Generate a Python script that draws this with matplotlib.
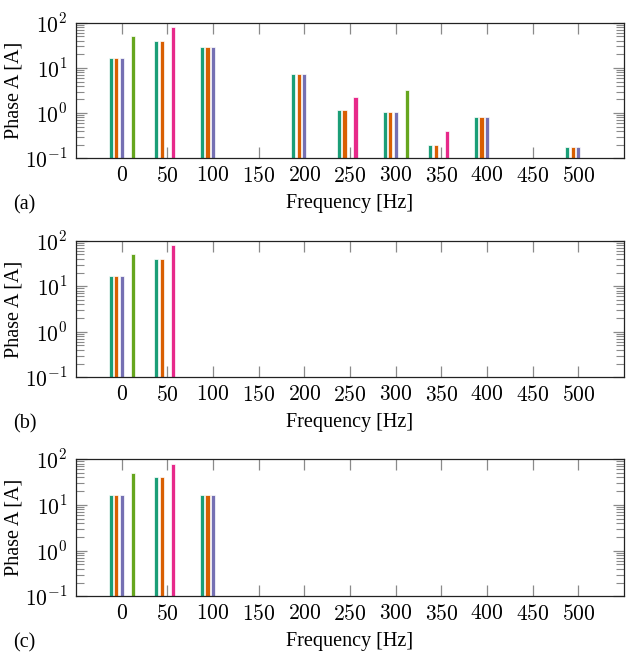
import numpy as np
import matplotlib
matplotlib.use("Agg")
import matplotlib.pyplot as plt
from matplotlib.ticker import FixedLocator, FuncFormatter, LogLocator, NullFormatter

plt.rcParams['font.family'] = ['Liberation Serif', 'DejaVu Serif']
plt.rcParams['mathtext.fontset'] = 'cm'

nan = np.nan

# 周波数 [Hz]
freqs = [0, 50, 100, 150, 200, 250, 300, 350, 400, 450, 500]
series_colors = ['#1b9e77', '#d95f02', '#7570b3', '#e7298a', '#66a61e']
series_offsets = [-12, -6, 0, 6, 12]

# (a)
a_teal = [16.8, 40, 28.5, nan, 7.2, 1.15, 1.07, 0.2, 0.83, nan, 0.18]
a_orange = [16.8, 40, 28.5, nan, 7.2, 1.15, 1.07, 0.2, 0.83, nan, 0.18]
a_purple = [16.8, nan, 28.5, nan, 7.2, nan, 1.07, nan, 0.83, nan, 0.18]
a_pink = [nan, 80, nan, nan, nan, 2.3, nan, 0.4, nan, nan, nan]
a_green = [51, nan, nan, nan, nan, nan, 3.2, nan, nan, nan, nan]

# (b)
b_teal = [16.8, 40, nan, nan, nan, nan, nan, nan, nan, nan, nan]
b_orange = [16.8, 40, nan, nan, nan, nan, nan, nan, nan, nan, nan]
b_purple = [16.8, nan, nan, nan, nan, nan, nan, nan, nan, nan, nan]
b_pink = [nan, 80, nan, nan, nan, nan, nan, nan, nan, nan, nan]
b_green = [51, nan, nan, nan, nan, nan, nan, nan, nan, nan, nan]

# (c)
c_teal = [16.8, 40, 16.8, nan, nan, nan, nan, nan, nan, nan, nan]
c_orange = [16.8, 40, 16.8, nan, nan, nan, nan, nan, nan, nan, nan]
c_purple = [16.8, nan, 16.8, nan, nan, nan, nan, nan, nan, nan, nan]
c_pink = [nan, 80, nan, nan, nan, nan, nan, nan, nan, nan, nan]
c_green = [51, nan, nan, nan, nan, nan, nan, nan, nan, nan, nan]

panels = [
    ('(a)', [a_teal, a_orange, a_purple, a_pink, a_green]),
    ('(b)', [b_teal, b_orange, b_purple, b_pink, b_green]),
    ('(c)', [c_teal, c_orange, c_purple, c_pink, c_green]),
]

W, H = 626, 653
fig = plt.figure(figsize=(W / 100, H / 100), dpi=100)

# 各パネルの位置 (ピクセル: 上端, 下端)
boxes = [(22.7, 158.3), (240.7, 377.3), (459.3, 596.3)]
left_px, right_px = 76, 624
tick_gray = '#8a8a8a'

for (tag, series), (top, bot) in zip(panels, boxes):
    ax = fig.add_axes([left_px / W, 1 - bot / H, (right_px - left_px) / W, (bot - top) / H])
    ax.set_yscale('log')
    x = np.array(freqs, dtype=float)
    for vals, col, off in zip(series, series_colors, series_offsets):
        v = np.array(vals, dtype=float)
        m = ~np.isnan(v)
        ax.bar(x[m] + off, v[m], width=4.6, bottom=1e-3, color=col,
               edgecolor='white', linewidth=0.5, zorder=2)
    ax.set_xlim(-50, 550)
    ax.set_ylim(0.1, 100)
    ax.set_axisbelow(True)

    ax.xaxis.set_major_locator(FixedLocator(freqs))
    ax.xaxis.set_major_formatter(FuncFormatter(lambda v, p: f'${int(v)}$'))
    ax.yaxis.set_major_locator(FixedLocator([0.1, 1, 10, 100]))
    ax.yaxis.set_major_formatter(FuncFormatter(lambda v, p: f'$10^{{{int(round(np.log10(v)))}}}$'))
    ax.yaxis.set_minor_locator(LogLocator(base=10, subs=np.arange(2, 10), numticks=20))
    ax.yaxis.set_minor_formatter(NullFormatter())

    ax.tick_params(axis='both', which='major', direction='in', length=8, width=0.9,
                   color=tick_gray, labelsize=15.5, top=True, right=True, pad=6)
    ax.tick_params(axis='y', which='minor', direction='in', length=5.5, width=0.8,
                   color=tick_gray, left=True, right=True)
    ax.tick_params(axis='x', which='minor', bottom=False, top=False)
    for s in ax.spines.values():
        s.set_linewidth(0.9)
        s.set_color('#222222')

    ax.set_ylabel('Phase A [A]', fontsize=14.5, labelpad=1)
    ax.set_xlabel('Frequency [Hz]', fontsize=14.5, labelpad=5)
    fig.text(13 / W, 1 - (bot + 47) / H, tag, fontsize=14.5, ha='left', va='center')

fig.savefig('out.png', dpi=100)
